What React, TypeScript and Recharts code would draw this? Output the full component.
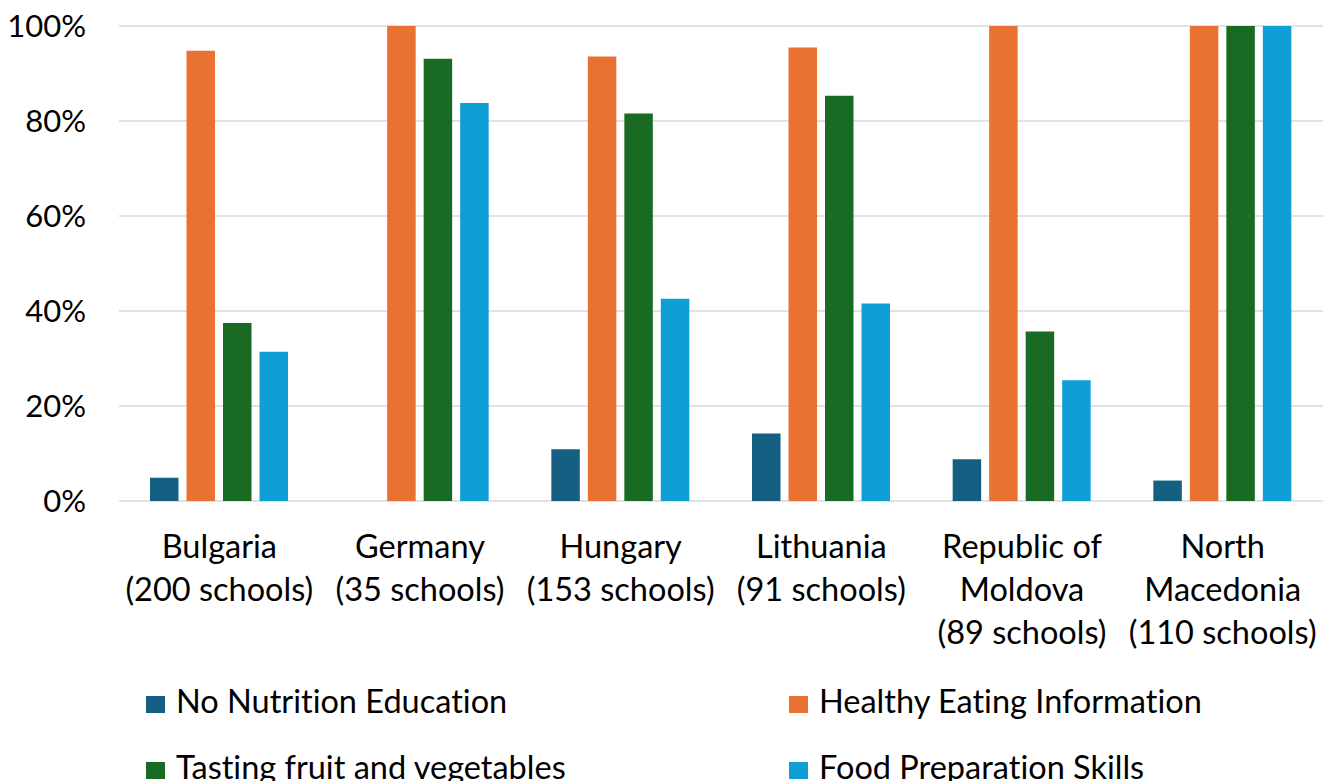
import { BarChart, Bar, XAxis, YAxis, CartesianGrid, Legend } from 'recharts';

// Country groups, each label split over the lines it is drawn on
const countries = [
  ['Bulgaria', '(200 schools)'],
  ['Germany', '(35 schools)'],
  ['Hungary', '(153 schools)'],
  ['Lithuania', '(91 schools)'],
  ['Republic of', 'Moldova', '(89 schools)'],
  ['North', 'Macedonia', '(110 schools)'],
];

// Share of schools (%) per type of nutrition education
const noNutrition = [4.9, 0, 10.9, 14.2, 8.8, 4.3];
const healthyEating = [94.8, 100, 93.6, 95.5, 100, 100];
const tastingFruitVeg = [37.5, 93.1, 81.6, 85.3, 35.7, 100];
const foodPreparation = [31.4, 83.8, 42.6, 41.6, 25.4, 100];

const yTicks = [0, 20, 40, 60, 80, 100];

const series = [
  { key: 'none', name: 'No Nutrition Education', color: '#156082' },
  { key: 'healthy', name: 'Healthy Eating Information', color: '#E97132' },
  { key: 'tasting', name: 'Tasting fruit and vegetables', color: '#196B24' },
  { key: 'prep', name: 'Food Preparation Skills', color: '#0F9ED5' },
];

const data = countries.map((lines, i) => ({
  country: lines.join(' '),
  none: noNutrition[i],
  healthy: healthyEating[i],
  tasting: tastingFruitVeg[i],
  prep: foodPreparation[i],
}));

const FONT = 'Lato, "Open Sans", sans-serif';

const CountryTick = (props: any) => {
  const { x, y, index } = props;
  const lines = countries[index] || [];
  return (
    <text x={x} y={y} textAnchor="middle" fill="#000" fontFamily={FONT} fontSize={32.5}>
      {lines.map((line, i) => (
        <tspan key={i} x={x} dy={i === 0 ? 57 : 43}>
          {line}
        </tspan>
      ))}
    </text>
  );
};

const LegendBlock = () => {
  // two columns, two rows; squares sit on the text baseline
  const squareLeft = [146, 789];
  const textLeft = [176, 819];
  const rowTop = [14.5, 80.5];
  return (
    <div
      style={{
        position: 'relative',
        width: 1326,
        height: 111,
        fontFamily: FONT,
        fontSize: 32.5,
        color: '#000',
        fontVariantLigatures: 'none',
      }}
    >
      {series.map((s, i) => {
        const col = i % 2;
        const top = rowTop[Math.floor(i / 2)];
        return (
          <div key={s.key}>
            <span
              style={{
                position: 'absolute',
                left: squareLeft[col],
                top: top + 11.5,
                width: 19,
                height: 17,
                background: s.color,
              }}
            />
            <span
              style={{
                position: 'absolute',
                left: textLeft[col],
                top,
                lineHeight: '32px',
                whiteSpace: 'nowrap',
              }}
            >
              {s.name}
            </span>
          </div>
        );
      })}
    </div>
  );
};

export default function App() {
  return (
    <div style={{ position: 'absolute', left: 0, top: 0, width: 1326, height: 781, background: '#fff', overflow: 'hidden' }}>
      <BarChart
        width={1326}
        height={781}
        data={data}
        margin={{ top: 26, right: 3, left: 0, bottom: 0 }}
        barSize={28.5}
        barGap={8}
      >
        <CartesianGrid vertical={false} stroke="#d9d9d9" strokeWidth={1.5} />
        <XAxis
          dataKey="country"
          axisLine={false}
          tickLine={false}
          tickSize={0}
          tickMargin={0}
          height={169}
          interval={0}
          tick={<CountryTick />}
        />
        <YAxis
          domain={[0, 100]}
          ticks={yTicks}
          width={119}
          axisLine={false}
          tickLine={false}
          tickSize={0}
          tickMargin={33}
          tickFormatter={(v: number) => `${v}%`}
          tick={{ fill: '#000', fontSize: 31, fontFamily: FONT }}
        />
        <Legend verticalAlign="bottom" height={111} content={<LegendBlock />} />
        {series.map((s) => (
          <Bar key={s.key} dataKey={s.key} name={s.name} fill={s.color} isAnimationActive={false} />
        ))}
      </BarChart>
    </div>
  );
}
